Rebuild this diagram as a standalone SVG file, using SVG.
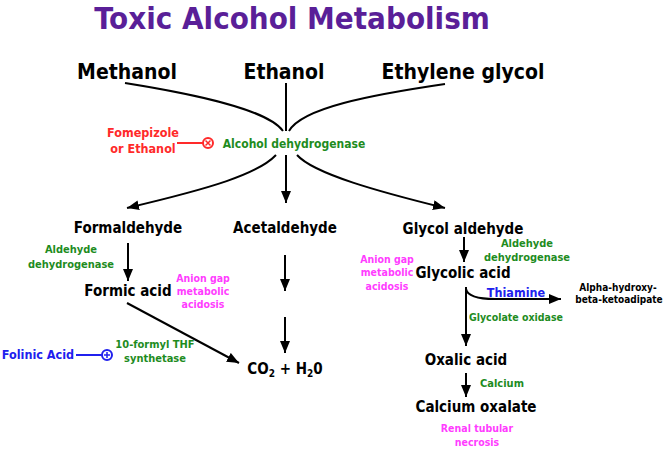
<svg xmlns="http://www.w3.org/2000/svg" width="665" height="450" viewBox="0 0 665 450">
<style>
text{font-family:"DejaVu Sans Condensed","DejaVu Sans",sans-serif;font-stretch:condensed;font-weight:bold;text-anchor:middle}
.t{font-size:31px;fill:#5a1f98}
.h{font-size:21px;fill:#000}
.n{font-size:15px;fill:#000}
.g{font-size:11px;fill:#1e8c1e}
.m{font-size:10.5px;fill:#ff3cff}
.r{font-size:12.5px;fill:#ff2a2a}
.b{font-size:12.5px;fill:#2020ee}
.k{font-size:10px;fill:#000}
.l{fill:none;stroke:#000;stroke-width:2}
</style>
<defs>
<marker id="ah" markerUnits="userSpaceOnUse" markerWidth="13" markerHeight="11" refX="12" refY="5" orient="auto">
<path d="M0,0 L12,5 L0,10 z" fill="#000"/>
</marker>
</defs>
<text class="t" x="292" y="29">Toxic Alcohol Metabolism</text>
<g id="methanol"><text class="h" x="127" y="79">Methanol</text></g>
<g id="ethanol"><text class="h" x="284" y="79">Ethanol</text></g>
<g id="ethylene-glycol"><text class="h" x="463" y="79">Ethylene glycol</text></g>
<g id="adh"><text class="g" x="294" y="148" style="font-size:12px">Alcohol dehydrogenase</text></g>
<g id="fomepizole">
<text class="r" x="143" y="137">Fomepizole</text>
<text class="r" x="143" y="153">or Ethanol</text>
<line x1="177" y1="143" x2="203" y2="143" stroke="#ff2a2a" stroke-width="2"/>
<circle cx="208" cy="143" r="5" fill="#fff" stroke="#ff2a2a" stroke-width="2"/>
<path d="M205.5,140.5 L210.5,145.5 M210.5,140.5 L205.5,145.5" stroke="#ff2a2a" stroke-width="1.5"/>
</g>
<g id="formaldehyde"><text class="n" x="128" y="233">Formaldehyde</text></g>
<g id="acetaldehyde"><text class="n" x="285" y="233">Acetaldehyde</text></g>
<g id="glycol-aldehyde"><text class="n" x="463" y="234">Glycol aldehyde</text></g>
<g id="aldh1"><text class="g" x="71" y="253">Aldehyde</text><text class="g" x="71" y="268">dehydrogenase</text></g>
<g id="formic-acid"><text class="n" x="128" y="296">Formic acid</text></g>
<g id="agma1"><text class="m" x="203" y="282">Anion gap</text><text class="m" x="203" y="295">metabolic</text><text class="m" x="203" y="308">acidosis</text></g>
<g id="aldh2"><text class="g" x="527" y="247">Aldehyde</text><text class="g" x="527" y="261">dehydrogenase</text></g>
<g id="agma2"><text class="m" x="387" y="263">Anion gap</text><text class="m" x="387" y="276">metabolic</text><text class="m" x="387" y="290">acidosis</text></g>
<g id="glycolic-acid"><text class="n" x="463" y="278">Glycolic acid</text></g>
<g id="thiamine"><text class="b" x="516" y="297" style="text-decoration:underline">Thiamine</text></g>
<g id="ahka"><text class="k" x="618" y="291">Alpha-hydroxy-</text><text class="k" x="619" y="303">beta-ketoadipate</text></g>
<g id="glycolate-oxidase"><text class="g" x="516" y="321" style="font-size:10.5px">Glycolate oxidase</text></g>
<g id="folinic">
<text class="b" x="38" y="359">Folinic Acid</text>
<line x1="76" y1="355" x2="102" y2="355" stroke="#2020ee" stroke-width="2"/>
<circle cx="107" cy="355" r="5" fill="#fff" stroke="#2020ee" stroke-width="2"/>
<path d="M104,355 L110,355 M107,352 L107,358" stroke="#2020ee" stroke-width="1.5"/>
</g>
<g id="thf"><text class="g" x="155" y="348">10-formyl THF</text><text class="g" x="155" y="362">synthetase</text></g>
<g id="co2"><text class="n" x="285" y="374">CO<tspan style="font-size:10px" dy="3">2</tspan><tspan dy="-3"> + H</tspan><tspan style="font-size:10px" dy="3">2</tspan><tspan dy="-3">0</tspan></text></g>
<g id="oxalic-acid"><text class="n" x="466" y="365">Oxalic acid</text></g>
<g id="calcium"><text class="g" x="502" y="387">Calcium</text></g>
<g id="calcium-oxalate"><text class="n" x="476" y="412">Calcium oxalate</text></g>
<g id="rtn"><text class="m" x="477" y="432">Renal tubular</text><text class="m" x="477" y="446">necrosis</text></g>
<g id="connectors">
<path class="l" d="M125,83 C200,95 268,110 283,131"/>
<path class="l" d="M445,84 C370,95 302,108 289,131"/>
<line class="l" x1="286" y1="83" x2="286" y2="131"/>
<line class="l" x1="286" y1="155" x2="286" y2="203" marker-end="url(#ah)"/>
<path class="l" d="M276,155 C258,174 212,188 127,208" marker-end="url(#ah)"/>
<path class="l" d="M297,155 C314,174 380,192 445,208" marker-end="url(#ah)"/>
<line class="l" x1="128" y1="243" x2="128" y2="281" marker-end="url(#ah)"/>
<line class="l" x1="285" y1="255" x2="285" y2="291" marker-end="url(#ah)"/>
<line class="l" x1="285" y1="317" x2="285" y2="353" marker-end="url(#ah)"/>
<line class="l" x1="127" y1="303" x2="239" y2="363" marker-end="url(#ah)"/>
<line class="l" x1="464" y1="237" x2="464" y2="262" marker-end="url(#ah)"/>
<line class="l" x1="466" y1="287" x2="466" y2="346" marker-end="url(#ah)"/>
<path class="l" d="M466,289 Q468,299 495,299 L561,299" marker-end="url(#ah)"/>
<line class="l" x1="466" y1="373" x2="466" y2="397" marker-end="url(#ah)"/>
</g>
</svg>
